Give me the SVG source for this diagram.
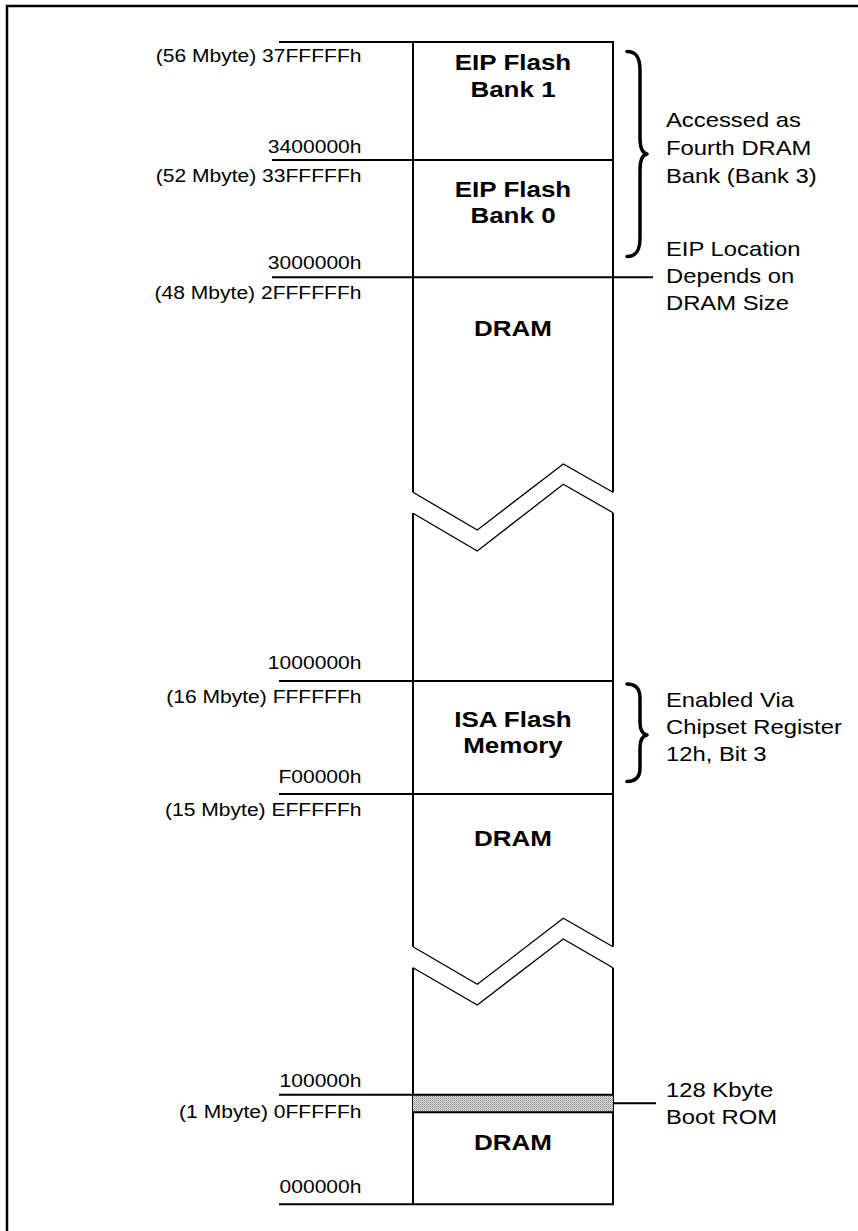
<svg xmlns="http://www.w3.org/2000/svg" width="858" height="1231" viewBox="0 0 858 1231">
<defs>
<pattern id="dots" width="2" height="2" patternUnits="userSpaceOnUse"><rect width="2" height="2" fill="#dcdcdc"/><rect width="1" height="1" fill="#8a8a8a"/><rect x="1" y="1" width="1" height="1" fill="#b0b0b0"/></pattern>
</defs>
<style>
.frame{fill:none;stroke:#000;stroke-width:2.5}
.ln{fill:none;stroke:#000;stroke-width:2}
.zz{fill:none;stroke:#000;stroke-width:1.3;stroke-linejoin:miter}
.br{fill:none;stroke:#000;stroke-width:3.5;stroke-linecap:round;stroke-linejoin:round}
.addr{font-family:"Liberation Sans",Arial,sans-serif;font-size:18.3px;fill:#000;text-anchor:end}
.blk{font-family:"Liberation Sans",Arial,sans-serif;font-size:22.6px;font-weight:bold;fill:#000;text-anchor:middle}
.note{font-family:"Liberation Sans",Arial,sans-serif;font-size:20.7px;fill:#000}
</style>
<path class="frame" d="M7,1231 V6 H858"/>

<g id="column">
<path class="ln" d="M413,42 V492.3 M613,42 V492.3 M413,513 V946.7 M613,513 V946.7 M413,967.7 V1204.3 M613,967.7 V1204.3"/>
<path class="zz" d="M413,492.3 L477.3,530 L563.3,464 L613,492.3"/>
<path class="zz" d="M413,513.3 L477.3,551 L563.3,484.3 L613,512.7"/>
<path class="zz" d="M413,946.7 L477.3,984.3 L563.3,918.3 L613,946.7"/>
<path class="zz" d="M413,967.7 L477.3,1005 L563.3,939 L613,967.7"/>
</g>

<g id="eip-bank1">
<path class="ln" d="M279,42 H614"/>
<text class="blk" transform="translate(513,70) scale(1.15,1)">EIP Flash</text>
<text class="blk" transform="translate(513,96.7) scale(1.15,1)">Bank 1</text>
<text class="addr" transform="translate(361.5,62.3) scale(1.15,1)">(56 Mbyte) 37FFFFFh</text>
<text class="addr" transform="translate(361.5,153.3) scale(1.15,1)">3400000h</text>
</g>

<g id="eip-bank0">
<path class="ln" d="M272,160 H613"/>
<text class="blk" transform="translate(513,196.7) scale(1.15,1)">EIP Flash</text>
<text class="blk" transform="translate(513,223.3) scale(1.15,1)">Bank 0</text>
<text class="addr" transform="translate(361.5,182.3) scale(1.15,1)">(52 Mbyte) 33FFFFFh</text>
<text class="addr" transform="translate(361.5,269.3) scale(1.15,1)">3000000h</text>
</g>

<g id="dram-high">
<path class="ln" d="M272,277.3 H613"/>
<text class="blk" transform="translate(513,336) scale(1.15,1)">DRAM</text>
<text class="addr" transform="translate(361.5,299) scale(1.15,1)">(48 Mbyte) 2FFFFFFh</text>
<text class="addr" transform="translate(361.5,669.3) scale(1.15,1)">1000000h</text>
</g>

<g id="isa-flash">
<path class="ln" d="M279,681 H613"/>
<text class="blk" transform="translate(513,727) scale(1.15,1)">ISA Flash</text>
<text class="blk" transform="translate(513,753) scale(1.15,1)">Memory</text>
<text class="addr" transform="translate(361.5,703.3) scale(1.15,1)">(16 Mbyte) FFFFFFh</text>
<text class="addr" transform="translate(361.5,782.7) scale(1.15,1)">F00000h</text>
</g>

<g id="dram-mid">
<path class="ln" d="M279,794 H613"/>
<text class="blk" transform="translate(513,846) scale(1.15,1)">DRAM</text>
<text class="addr" transform="translate(361.5,816) scale(1.15,1)">(15 Mbyte) EFFFFFh</text>
<text class="addr" transform="translate(361.5,1086.7) scale(1.15,1)">100000h</text>
</g>

<g id="boot-rom">
<rect x="413" y="1095" width="200" height="17.3" fill="url(#dots)"/>
<path class="ln" d="M279,1094.7 H613 M413,1112.3 H614"/>
</g>

<g id="dram-low">
<path class="ln" d="M279,1204.3 H614"/>
<text class="blk" transform="translate(513,1150) scale(1.15,1)">DRAM</text>
<text class="addr" transform="translate(361.5,1117.7) scale(1.15,1)">(1 Mbyte) 0FFFFFh</text>
<text class="addr" transform="translate(361.5,1192.7) scale(1.15,1)">000000h</text>
</g>

<g id="connectors">
<path class="ln" d="M613,277.3 H653"/>
<path class="ln" d="M613,1103.3 H656"/>
<path class="br" d="M627,51.5 C636,51.5 640,57 640,70 L640,138 C640,148 642,153 647,154 C642,155 640,160 640,170 L640,238 C640,251 636,256.5 627,256.5"/>
<path class="br" d="M627,684 C636,684 640,689 640,698 L640,722 C640,730 642,734 647,735 C642,736 640,740 640,748 L640,768 C640,777 636,781.5 627,781.5"/>
</g>

<g id="note-eip-bank3">
<text class="note" transform="translate(666,127.3) scale(1.15,1)">Accessed as</text>
<text class="note" transform="translate(666,155) scale(1.15,1)">Fourth DRAM</text>
<text class="note" transform="translate(666,182.7) scale(1.15,1)">Bank (Bank 3)</text>
</g>
<g id="note-eip-location">
<text class="note" transform="translate(666,255.7) scale(1.15,1)">EIP Location</text>
<text class="note" transform="translate(666,283.3) scale(1.15,1)">Depends on</text>
<text class="note" transform="translate(666,310) scale(1.15,1)">DRAM Size</text>
</g>
<g id="note-isa">
<text class="note" transform="translate(666,706.7) scale(1.15,1)">Enabled Via</text>
<text class="note" transform="translate(666,734) scale(1.15,1)">Chipset Register</text>
<text class="note" transform="translate(666,760.7) scale(1.15,1)">12h, Bit 3</text>
</g>
<g id="note-boot">
<text class="note" transform="translate(666,1097) scale(1.15,1)">128 Kbyte</text>
<text class="note" transform="translate(666,1124) scale(1.15,1)">Boot ROM</text>
</g>
</svg>
